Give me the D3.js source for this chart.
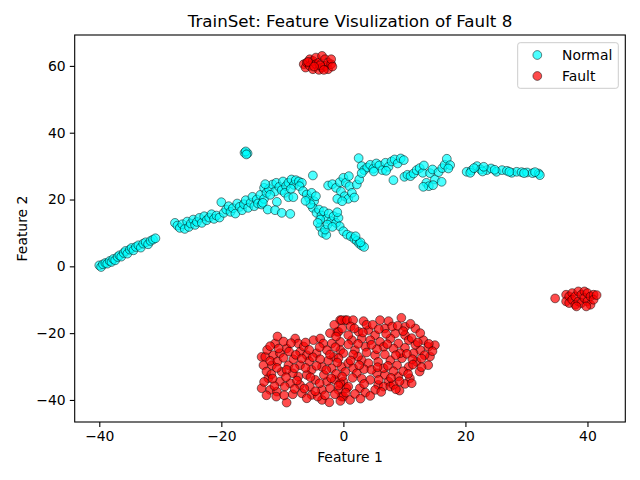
<!DOCTYPE html>
<html><head><meta charset="utf-8">
<script src="https://cdn.jsdelivr.net/npm/d3@7"></script>
<style>body{margin:0;background:#fff}svg{display:block;font-family:"DejaVu Sans",sans-serif}</style>
</head><body><svg id="c" width="640" height="480"></svg>
<script>
const title = "TrainSet: Feature Visulization of Fault 8";
const xLabel = "Feature 1";
const yLabel = "Feature 2";
const xTicks = [-40, -20, 0, 20, 40];
const yTicks = [-40, -20, 0, 20, 40, 60];
const seriesNames = ["Normal", "Fault"];
const seriesColors = ["#00ffff", "#ff0000"];

const normalPoints = [
 [-40,0.3],[-39.7,-0.2],[-39.4,0.6],[-39,1],[-38.7,0.8],[-38.3,1.6],[-38,1.3],[-37.7,2.2],[-37.4,1.8],[-37,2.8],[-36.7,3.3],[-36.4,2.9],[-36,4],[-35.7,4.6],[-35.4,3.8],[-35,5],[-34.7,5.5],[-34.4,4.8],[-34,5.8],[-33.6,6.3],[-33.2,5.6],[-32.8,6.8],[-32.4,7.2],[-32,6.6],[-31.6,7.6],[-31.2,8],[-30.8,8.4],
 [-27.6,13],[-27.2,12.2],[-26.8,11.5],[-26.4,12.6],[-26,11.2],[-25.6,13.4],[-25.3,11.8],[-25,12.8],[-24.6,14],[-24.3,12.4],[-24,13.3],[-23.6,14.5],[-23.2,13],[-22.8,15],[-22.4,13.8],[-22,14.6],[-21.6,15.6],[-21.2,14.2],[-20.8,15.2],[-20.3,14.6],
 [-20,19.2],[-19.6,16],[-19.2,17],[-18.8,18],[-18.5,16.3],[-18.1,17.4],[-17.7,15.8],[-17.4,18.8],[-17,17.8],[-16.6,16.8],[-16.3,18.6],[-16,19.8],[-15.6,17.5],[-15.2,19],[-14.9,20.8],[-14.6,18],[-14.2,20],[-14,18.8],[-13.6,21.4],[-13.4,18.5],[-13,20.2],
 [-16.2,34],[-15.7,33.8],[-16,34.4],[-15.9,33.5],
 [-13,23.5],[-12.6,22],[-12.2,23.2],[-11.6,24.5],[-11.2,22.4],[-11,25],[-10.5,23.8],[-10.1,22.8],[-9.9,25.4],[-9.4,24],[-9,25],[-8.5,26],[-8.1,24.4],[-7.8,25.8],[-7.3,25.4],[-6.8,25],
 [-12.8,24.6],[-12,21.4],[-9.6,22],[-8.6,23.2],[-7.2,24],
 [-13.2,19],[-12.4,17],[-10.9,19.3],[-11.2,16.8],[-10.1,16],[-8.7,15.7],[-9,20.7],[-8.2,20.7],
 [-5,27.2],
 [-6.6,22.5],[-6,21.5],[-5.6,20.3],[-5.2,22],[-4.8,19.5],[-4.5,21],[-5,17.5],[-4.4,16],[-4,17],[-3.6,15.2],[-3.2,16.5],[-2.8,14.2],[-2.4,15.8],[-2,13.5],[-1.6,15],[-1.2,13],[-0.8,14.5],[-0.6,12],[-3.8,11.8],[-3.4,10],[-2.8,9.4],[-3,11],
 [-3.8,14],[-2.6,12.5],[-1.8,11.8],[-1,16.2],[-4.2,13],[-5.4,18.6],[-6.2,19.6],
 [0,10.5],[0.6,9.5],[1.2,9],[1.8,8.2],[2.2,7.6],[2.6,6.8],[3,6.2],[3.4,5.8],[2.8,7.2],[2,9],
 [-2.5,24.2],[-1.8,24.6],[-1.2,23.5],[-0.6,25.2],[0,26.5],[0.4,25],[1,24],[-0.4,22.4],[0.2,21],[0.8,20.2],[1.4,22],[1.8,20.6],[-1,20.2],[-0.2,19.5],[2.2,24.5],[2.6,26],[0.9,27],
 [2.5,32.4],[3,30],[3.4,28.8],[3.9,29.6],[4.4,30.4],[4.9,29.2],[5.4,30.8],[5.9,30.2],[6.4,28.8],[6.9,31],[7.4,29.8],[7.9,31.4],[8.4,32],[8.9,30.8],[9.4,32.3],[9.9,31.8],[3,27.9],[5,28.4],[7,28.6],
 [8.2,25.8],
 [10,26.8],[10.5,27.4],[11,27],[11.5,27.8],[12,28.8],[12.5,29.4],[13,28],[13.2,30.2],[13.6,25],[14,24],[14.2,27.9],[14.6,29],[15,26],[14.7,24.3],[15.6,28.2],[16.1,25.3],[16.2,29.4],[16.6,30.4],[16.95,32.2],[17.5,30.3],[13.1,23.8],[17.2,29.3],
 [20.2,28.3],[21,28.7],[21.9,30],[22.5,29],[23.5,28.8],[24.2,29.3],[25.1,28.3],[26,28.8],[26.8,28.6],[27.6,28],[28.4,28.3],[29.2,28.2],[30.1,28.1],[31,27.9],[32,27.8],[32.2,27.3],
 [20.8,28],[22.8,28.4],[24.8,28.9],[27.2,28.3],[29.6,27.9],[31.4,28.2],[23,29.8],[21.4,29.4]
];

const faultPoints = [
 [-6.5,60.5],[-6.2,59.5],[-6,61],[-5.5,62],[-5.5,60],[-5,59],[-5,61.5],[-4.5,62.5],[-4.5,60.5],[-4,58.8],[-4,61],[-3.5,63],[-3.5,59.5],[-3,62],[-3,60],[-2.5,61],[-2.5,59],[-2,60.5],[-2,62],[-1.8,59.8],[-5.8,61.2],[-3.8,60.2],[-4.8,59.8],[-3.2,58.8],
 [34.7,-9.6],[36.5,-8.5],[36.5,-10.5],[37,-9],[37,-11],[37.5,-8],[37.5,-10],[38,-11.5],[38,-9],[38.5,-7.5],[38.5,-10.5],[39,-8.5],[39,-11],[39.5,-7.5],[39.5,-9.5],[40,-10.5],[40,-8],[40.5,-11.5],[40.5,-9],[41,-8.5],[41,-10],[41.5,-8.6],[38.2,-12],[39.8,-12],
 [-0.54,-16.1],[0.28,-16.1],[-1,-19.6],[-11.2,-23.1],[-9.3,-24.6],[-7.9,-21.6],[-7.4,-23.1],[-4.9,-22.1],[-3.8,-21.6],[-3.3,-23.1],[-1.9,-23.1],[-0.5,-22.6],
 [-13.4,-27.1],[-12.8,-27.1],[-11.5,-26.6],[-10.4,-26],[-11.7,-29.6],[-13.1,-29.6],[-7.1,-25.6],[-6,-26.6],[-4.4,-26],[-2.7,-25.1],[-0.5,-25.1],[-1.6,-27.1],
 [-9,-29.6],[-7.1,-29.6],[-5.2,-31],[-3.5,-30.1],[-1.9,-30.5],[-0.3,-30.1],[-10.1,-31.6],
 [-12.3,-33.5],[-10.4,-34.5],[-8.7,-35],[-7.4,-33],[-6,-32.5],[-4.6,-34],[-2.7,-34.5],[-1.4,-34],[0,-34.5],
 [-13.4,-36.5],[-12,-37],[-10.9,-37.5],[-9.6,-36],[-7.1,-35.5],[-6.8,-38],[-5.2,-38.5],[-3.5,-37],[-2.2,-36.5],[-0.8,-37],[0.5,-36.5],
 [-9.3,-40.8],[-6,-39.5],[-3.5,-40],[-2.3,-40.7],[-0.3,-39],
 [-0.3,-16.1],[0.6,-16.1],[1.6,-16.1],[3.3,-16.4],[6,-16.1],[7.4,-16.4],[9.5,-15.4],
 [-0.8,-19.6],[2.5,-19.6],[4.1,-19.1],[5.2,-20.6],[6.8,-18.6],[8.5,-20.1],[10.1,-18.1],[11.8,-18.6],[10.1,-20.6],
 [1.4,-22.1],[3,-21.6],[4.4,-22.1],[6,-22.6],[7.7,-21.6],[9,-23.1],[10.7,-22.1],[13.1,-22.1],[15,-23.6],[13.9,-24.1],
 [1.9,-25.1],[3.6,-24.1],[6.6,-24.1],[8.2,-24.6],[10.1,-24.4],[12.6,-25.1],[11.5,-26],[0,-26],[5.2,-26.6],
 [-0.8,-27.5],[3,-28.1],[4.1,-29],[5.7,-28.6],[7.7,-28.1],[9.6,-27.5],[12,-28.6],[13.9,-29.6],[10.7,-30.1],[0.8,-29],[1.6,-30.5],
 [0.3,-31.6],[2.2,-32],[4.4,-34],[5.5,-32],[6.8,-32.5],[9,-33],[10.9,-33.5],[7.4,-34.5],
 [-0.5,-35],[0.8,-36],[2.7,-36.5],[5.7,-35.5],[6.6,-36],[7.7,-36],[10.1,-35.2],[5.2,-37],
 [0,-39],[1.1,-40],
 [-12.5,-25],[-10.8,-21],[-8.2,-27.8],[-5.6,-28.4],[-2.5,-28.2],[-12.6,-31.5],[-8.3,-32],[-3.2,-32.5],[-11.3,-35.8],[-5.5,-36],[-8.3,-38.3],[-4.2,-39],[-6.5,-24],[-2.2,-20],
 [1.2,-18],[3.8,-17.5],[8,-18],[5.5,-24.8],[9.3,-26],[11.8,-23.5],[14.2,-27],[2.4,-27],[6.6,-30.5],[8.8,-29.6],[12.5,-31.5],[3.4,-30.8],[8.2,-35.5],[3.6,-37.8],[9.2,-37.2],
 [-12,-28.3],[-10.8,-28.5],[-9.8,-27.4],[-8.9,-25.5],[-7.8,-26.5],[-6.8,-27.6],[-5,-27.2],[-3.8,-27.8],[-2.2,-26.4],[-1,-28.8],
 [-11.8,-32.3],[-10.9,-30.4],[-9.3,-31],[-8,-30.5],[-6.2,-30.4],[-4.4,-29.8],[-2.8,-31],[-1.2,-32.2],[-0.2,-33],
 [-13,-34.6],[-11.6,-33.6],[-9.4,-33.2],[-7.6,-34.2],[-5.4,-33.2],[-3.9,-35],[-2,-33.5],[-0.8,-35.7],
 [-12.6,-38.6],[-11,-39],[-9.7,-38.6],[-8,-36.7],[-6.4,-36.6],[-4.6,-37.4],[-3,-38.6],[-1.4,-38.3],[-0.5,-40.3],
 [-9.8,-22.5],[-8.6,-23],[-6.2,-22.8],[-5.6,-25],[-3.9,-24.2],[-1.3,-24.2],[-12,-23.9],[-10.6,-24.6],
 [-1.5,-17.5],[-1.2,-21],[-0.2,-18.6],
 [0.8,-20.6],[1.8,-18.6],[3.2,-19.8],[4.8,-17.5],[5.8,-18.8],[7,-20.2],[8.9,-17.8],[9.8,-19.4],[11,-17.2],[12.6,-20],[11.2,-21.5],[12.2,-22.8],[14,-23.2],[14.6,-25.4],[13.3,-26.6],[12.8,-27.6],
 [0.8,-23.4],[2.4,-23.2],[3.8,-25.8],[4.6,-23.5],[7.2,-23.3],[6.8,-26.4],[8.6,-26.6],[10.4,-26.2],[11.3,-27.8],
 [1.6,-26.4],[1.2,-28.2],[2.6,-29.6],[4.6,-31],[5.6,-30.2],[7.3,-29.8],[8.2,-31.4],[9.8,-31.4],[11.4,-29.4],[12.8,-30.2],[10.6,-32.2],
 [1.5,-33.4],[3,-33.6],[5.8,-34],[7.8,-33.4],[9.2,-34.4],[11.2,-35],[3.4,-35.2],[6.2,-37.6],[8.6,-36.8],[1.9,-38.2],[4.4,-38.8],[2.8,-39.6],[0.4,-37.8]
];

const svg = d3.select("#c");
const x = d3.scaleLinear().domain([-44.03, 46.2]).range([74.7, 625.3]);
const y = d3.scaleLinear().domain([-46.6, 69.25]).range([422, 35]);
const fs = 13.9;

const plot = svg.append("g");
svg.append("clipPath").attr("id","clp").append("rect")
  .attr("x",74.7).attr("y",35).attr("width",550.6).attr("height",387);

function drawSeries(pts, color) {
  plot.append("g").attr("clip-path","url(#clp)").selectAll("circle").data(pts).join("circle")
    .attr("cx", d => x(d[0])).attr("cy", d => y(d[1])).attr("r", 4.4)
    .attr("fill", color).attr("fill-opacity", 0.7)
    .attr("stroke", "#000").attr("stroke-opacity", 0.7).attr("stroke-width", 0.7);
}
drawSeries(normalPoints, seriesColors[0]);
drawSeries(faultPoints, seriesColors[1]);

svg.append("rect").attr("x",74.7).attr("y",35).attr("width",550.6).attr("height",387)
  .attr("fill","none").attr("stroke","#000").attr("stroke-width",1.1);

const xa = svg.append("g").attr("transform","translate(0,422)")
  .call(d3.axisBottom(x).tickValues(xTicks).tickSize(4.9).tickPadding(4.2).tickFormat(d3.format("d")));
const ya = svg.append("g").attr("transform","translate(74.7,0)")
  .call(d3.axisLeft(y).tickValues(yTicks).tickSize(4.9).tickPadding(4.2).tickFormat(d3.format("d")));
[xa, ya].forEach(a => {
  a.select(".domain").remove();
  a.selectAll(".tick line").attr("stroke","#000").attr("stroke-width",1.1);
  a.selectAll(".tick text").attr("fill","#000").style("font-size", fs + "px").style("font-family","DejaVu Sans");
});

svg.append("text").attr("x", 350).attr("y", 27).attr("text-anchor","middle")
  .style("font-size","16.7px").attr("fill","#000").text(title);
svg.append("text").attr("x", 350).attr("y", 462).attr("text-anchor","middle")
  .style("font-size", fs+"px").attr("fill","#000").text(xLabel);
svg.append("text").attr("transform","translate(26.5,228.5) rotate(-90)").attr("text-anchor","middle")
  .style("font-size", fs+"px").attr("fill","#000").text(yLabel);

const lg = svg.append("g");
lg.append("rect").attr("x",517.7).attr("y",42.7).attr("width",100.6).attr("height",45.6)
  .attr("rx",2.5).attr("fill","#fff").attr("fill-opacity",0.8).attr("stroke","#cccccc").attr("stroke-width",1);
seriesNames.forEach((n,i) => {
  const cy = 55 + i*21;
  lg.append("circle").attr("cx",537.3).attr("cy",cy).attr("r",4.4)
    .attr("fill",seriesColors[i]).attr("fill-opacity",0.7)
    .attr("stroke","#000").attr("stroke-opacity",0.7).attr("stroke-width",0.7);
  lg.append("text").attr("x",562).attr("y",cy).attr("dy","0.36em")
    .style("font-size", fs+"px").attr("fill","#000").text(n);
});
</script></body></html>
